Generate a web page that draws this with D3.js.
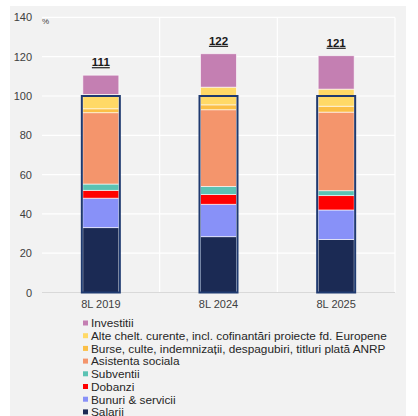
<!DOCTYPE html>
<html><head><meta charset="utf-8">
<script src="https://cdn.jsdelivr.net/npm/d3@7"></script>
<style>
html,body{margin:0;padding:0;background:#fff;}
text{font-family:"Liberation Sans",Arial,sans-serif;}
</style></head>
<body>
<svg id="c" width="418" height="416"></svg>
<script>
const categories = ["8L 2019", "8L 2024", "8L 2025"];
const totals = ["111", "122", "121"];
const seriesNames = ["Salarii", "Bunuri & servicii", "Dobanzi", "Subventii", "Asistenta sociala",
  "Burse, culte, indemnizații, despagubiri, titluri plată ANRP",
  "Alte chelt. curente, incl. cofinantări proiecte fd. Europene", "Investitii"];
const salarii    = [33.0, 28.4, 27.0];
const bunuri     = [15.0, 16.5, 15.0];
const dobanzi    = [4.0, 5.0, 7.3];
const subventii  = [3.2, 4.1, 2.5];
const asistenta  = [36.3, 39.0, 40.0];
const burse      = [2.0, 2.5, 3.0];
const alte       = [7.3, 9.0, 8.7];
const investitii = [9.8, 17.0, 17.0];
const yTicks = [0, 20, 40, 60, 80, 100, 120, 140];
const colors = ["#1b2a54", "#8891f8", "#ff0000", "#5bc2b3", "#f4956c", "#fbbf45", "#ffd966", "#c47fb2"];

const series = [salarii, bunuri, dobanzi, subventii, asistenta, burse, alte, investitii];
const rows = categories.map((c, i) => {
  const o = {cat: c};
  seriesNames.forEach((n, j) => o[n] = series[j][i]);
  return o;
});
const stacked = d3.stack().keys(seriesNames)(rows);

const svg = d3.select("#c");
svg.append("rect").attr("x", 10).attr("y", 6).attr("width", 396).attr("height", 410).attr("fill", "#f2f2f2");

const m = {l: 42, r: 395, t: 17.4, b: 292.5};
const x = d3.scaleBand().domain(categories).range([m.l, m.r]).paddingInner(0).paddingOuter(0);
const y = d3.scaleLinear().domain([0, 140]).range([m.b, m.t]);

svg.append("g").selectAll("line").data(yTicks.filter(t => t > 0)).join("line")
  .attr("x1", m.l).attr("x2", m.r).attr("y1", d => y(d)).attr("y2", d => y(d))
  .attr("stroke", "#ffffff").attr("stroke-width", 1.2);
svg.append("g").selectAll("line").data(categories).join("line")
  .attr("x1", d => x(d) + x.bandwidth()).attr("x2", d => x(d) + x.bandwidth())
  .attr("y1", m.t).attr("y2", m.b)
  .attr("stroke", "#ffffff").attr("stroke-width", 1.2);
svg.append("line").attr("x1", m.l).attr("x2", m.r).attr("y1", y(0)).attr("y2", y(0))
  .attr("stroke", "#d9d9d9").attr("stroke-width", 1);

const yAxis = d3.axisLeft(y).tickValues(yTicks).tickSize(0).tickPadding(0);
const gy = svg.append("g").attr("transform", `translate(32,0)`).call(yAxis);
gy.select(".domain").remove();
gy.selectAll("text").attr("font-size", 11).attr("fill", "#404040").attr("font-family", "Liberation Sans, Arial, sans-serif");
svg.append("text").attr("x", 42).attr("y", 24).attr("font-size", 8).attr("fill", "#404040").text("%");

const xAxis = d3.axisBottom(x).tickSize(0).tickPadding(0);
const gx = svg.append("g").attr("transform", `translate(0,${y(0) + 6})`).call(xAxis);
gx.select(".domain").remove();
gx.selectAll("text").attr("font-size", 11).attr("fill", "#404040").attr("dy", "0.9em").attr("font-family", "Liberation Sans, Arial, sans-serif");

const bw = 36;
const bx = d => x(d) + x.bandwidth() / 2 - bw / 2;
svg.append("g").selectAll("g").data(stacked).join("g")
  .attr("fill", (d, i) => colors[i])
  .selectAll("rect").data(d => d).join("rect")
  .attr("x", d => bx(d.data.cat)).attr("width", bw)
  .attr("y", d => y(d[1])).attr("height", d => y(d[0]) - y(d[1]))
  .attr("stroke", "#ffffff").attr("stroke-opacity", 0.75).attr("stroke-width", 0.8);

svg.append("g").selectAll("rect").data(categories).join("rect")
  .attr("x", d => bx(d) - 1).attr("width", bw + 2)
  .attr("y", y(100)).attr("height", y(0) - y(100))
  .attr("fill", "none").attr("stroke", "#1f3a70").attr("stroke-width", 2);

const tops = stacked[stacked.length - 1];
svg.append("g").selectAll("text").data(tops).join("text")
  .attr("x", d => x(d.data.cat) + x.bandwidth() / 2).attr("y", d => y(d[1]) - 9)
  .attr("text-anchor", "middle").attr("font-size", 11.5).attr("font-weight", "bold")
  .attr("fill", "#1a1a1a").attr("text-decoration", "underline")
  .text((d, i) => totals[i]);

const legendItems = seriesNames.map((n, i) => ({n, c: colors[i]})).reverse();
const lg = svg.append("g").selectAll("g").data(legendItems).join("g")
  .attr("transform", (d, i) => `translate(83,${323 + i * 12.7})`);
lg.append("rect").attr("x", 0).attr("y", -2.5).attr("width", 5).attr("height", 5).attr("fill", d => d.c);
lg.append("text").attr("x", 8).attr("y", 4.3).attr("font-size", 11.8).attr("fill", "#262626").text(d => d.n);
</script>
</body></html>
